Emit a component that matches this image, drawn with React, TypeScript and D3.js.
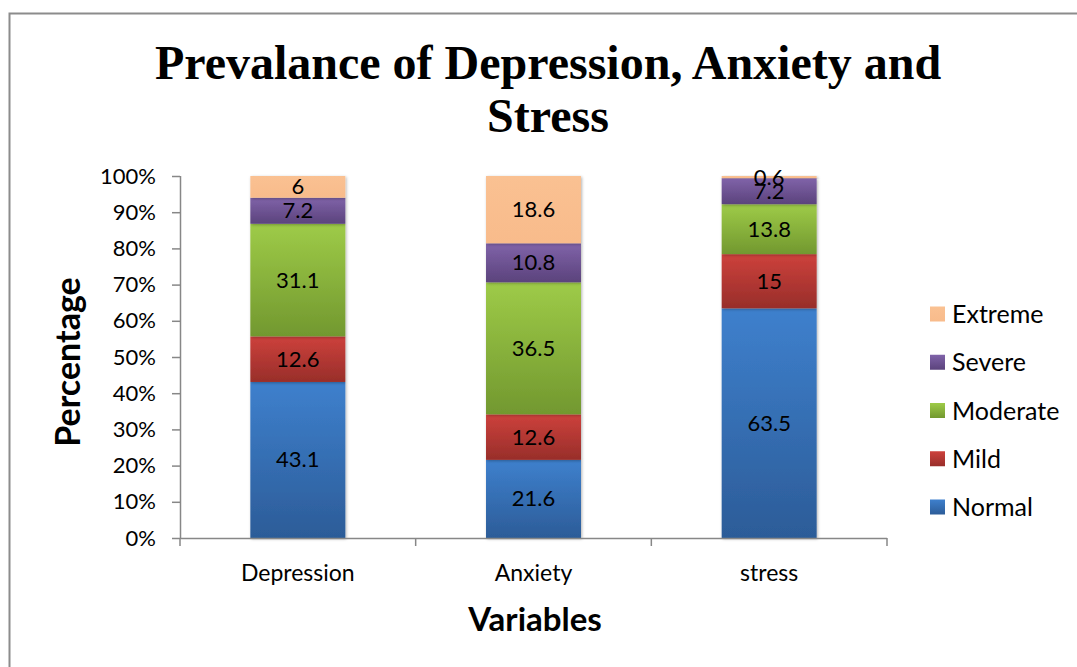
import React, { useEffect, useRef } from 'react';
import * as d3 from 'd3';

const categories = ['Depression', 'Anxiety', 'stress'];
const levels = ['Normal', 'Mild', 'Moderate', 'Severe', 'Extreme'];
const normal = [43.1, 21.6, 63.5];
const mild = [12.6, 12.6, 15];
const moderate = [31.1, 36.5, 13.8];
const severe = [7.2, 10.8, 7.2];
const extreme = [6, 18.6, 0.6];
const yTicks = [0, 0.1, 0.2, 0.3, 0.4, 0.5, 0.6, 0.7, 0.8, 0.9, 1];

// top / bottom gradient colours per level
const colors: Record<string, [string, string]> = {
  Normal: ['#3e80cd', '#2c5c98'],
  Mild: ['#cd413c', '#982e2a'],
  Moderate: ['#9ecb48', '#72982f'],
  Severe: ['#8063a9', '#5b437c'],
  Extreme: ['#fac192', '#f8bb8b'],
};

const W = 1077;
const H = 667;
const font = 'Lato, "Open Sans", sans-serif';

export default function App() {
  const ref = useRef<SVGSVGElement>(null);

  useEffect(() => {
    const svg = d3.select(ref.current);
    svg.selectAll('*').remove();

    const rows = categories.map((c, i) => ({
      name: c,
      Normal: normal[i],
      Mild: mild[i],
      Moderate: moderate[i],
      Severe: severe[i],
      Extreme: extreme[i],
    }));

    const series = d3.stack<any>().keys(levels).offset(d3.stackOffsetExpand)(rows);

    const x = d3.scaleBand().domain(categories).range([180, 887]);
    const y = d3.scaleLinear().domain([0, 1]).range([538, 176]);
    const barW = x.bandwidth() * 0.403;

    const defs = svg.append('defs');
    levels.forEach((k) => {
      const g = defs.append('linearGradient')
        .attr('id', 'grad-' + k)
        .attr('x1', 0).attr('y1', 0).attr('x2', 0).attr('y2', 1);
      g.append('stop').attr('offset', '0%').attr('stop-color', colors[k][0]);
      g.append('stop').attr('offset', '100%').attr('stop-color', colors[k][1]);
    });
    const f = defs.append('filter').attr('id', 'shadow')
      .attr('x', '-10%').attr('y', '-10%').attr('width', '130%').attr('height', '130%');
    f.append('feDropShadow').attr('dx', 1).attr('dy', 1).attr('stdDeviation', 1.5)
      .attr('flood-color', '#000').attr('flood-opacity', 0.3);

    // frame
    svg.append('path')
      .attr('d', `M9.5,${H} V13.5 H${W}`)
      .attr('fill', 'none').attr('stroke', '#8c8c8c').attr('stroke-width', 2);

    // title
    const title = svg.append('text')
      .attr('text-anchor', 'middle')
      .style('font-family', '"Liberation Serif", "Times New Roman", serif')
      .style('font-weight', 'bold').style('font-size', '48px');
    title.append('tspan').attr('x', 548).attr('y', 79).text('Prevalance of Depression, Anxiety and');
    title.append('tspan').attr('x', 548).attr('y', 132).text('Stress');

    // y axis
    const yAxis = svg.append('g')
      .attr('transform', 'translate(180,0)')
      .call(d3.axisLeft(y).tickValues(yTicks).tickFormat(d3.format('.0%')).tickSize(8).tickPadding(16));
    yAxis.selectAll('path, line').attr('stroke', '#878787').attr('stroke-width', 1.5);
    yAxis.selectAll('text').style('font-family', font).style('font-size', '22px').attr('fill', '#000');
    yAxis.select('.domain').attr('d', 'M0.5,176V538');

    // bars
    const g = svg.append('g');
    series.forEach((s) => {
      g.selectAll(null)
        .data(s)
        .enter().append('rect')
        .attr('x', (d: any) => (x(d.data.name) as number) + (x.bandwidth() - barW) / 2)
        .attr('y', (d: any) => y(d[1]))
        .attr('width', barW)
        .attr('height', (d: any) => y(d[0]) - y(d[1]))
        .attr('fill', `url(#grad-${s.key})`)
        .attr('filter', 'url(#shadow)');
    });

    // x axis
    const xAxis = svg.append('g');
    xAxis.append('line')
      .attr('x1', 180).attr('x2', 887).attr('y1', 538.5).attr('y2', 538.5)
      .attr('stroke', '#878787').attr('stroke-width', 1.5);
    const bounds = categories.map((c) => x(c) as number).concat([887]);
    xAxis.selectAll(null)
      .data(bounds)
      .enter().append('line')
      .attr('x1', (d) => d).attr('x2', (d) => d)
      .attr('y1', 538).attr('y2', 546)
      .attr('stroke', '#878787').attr('stroke-width', 1.5);
    xAxis.selectAll(null)
      .data(categories)
      .enter().append('text')
      .attr('x', (d) => (x(d) as number) + x.bandwidth() / 2)
      .attr('y', 581)
      .attr('text-anchor', 'middle')
      .style('font-family', font).style('font-size', '23px')
      .text((d) => d);

    // data labels
    series.forEach((s) => {
      g.selectAll(null)
        .data(s)
        .enter().append('text')
        .attr('x', (d: any) => (x(d.data.name) as number) + x.bandwidth() / 2)
        .attr('y', (d: any) => (y(d[0]) + y(d[1])) / 2 + 7.5)
        .attr('text-anchor', 'middle')
        .style('font-family', font).style('font-size', '22px')
        .attr('fill', '#000')
        .text((d: any) => String(d.data[s.key]));
    });

    // axis titles
    svg.append('text')
      .attr('transform', 'translate(80,362) rotate(-90)')
      .attr('text-anchor', 'middle')
      .style('font-family', font).style('font-weight', 'bold').style('font-size', '34px')
      .text('Percentage');
    svg.append('text')
      .attr('x', 535).attr('y', 631)
      .attr('text-anchor', 'middle')
      .style('font-family', font).style('font-weight', 'bold').style('font-size', '33px')
      .text('Variables');

    // legend
    const legend = svg.append('g');
    const order = levels.slice().reverse();
    const ly = d3.scalePoint().domain(order).range([314, 507]);
    order.forEach((k) => {
      legend.append('rect')
        .attr('x', 930).attr('y', (ly(k) as number) - 7.5)
        .attr('width', 15).attr('height', 15)
        .attr('fill', `url(#grad-${k})`);
      legend.append('text')
        .attr('x', 952).attr('y', (ly(k) as number) + 9)
        .style('font-family', font).style('font-size', '25px')
        .text(k);
    });
  }, []);

  return (
    <svg ref={ref} width={W} height={H} style={{ display: 'block', position: 'absolute', left: 0, top: 0, background: '#fff' }} />
  );
}
